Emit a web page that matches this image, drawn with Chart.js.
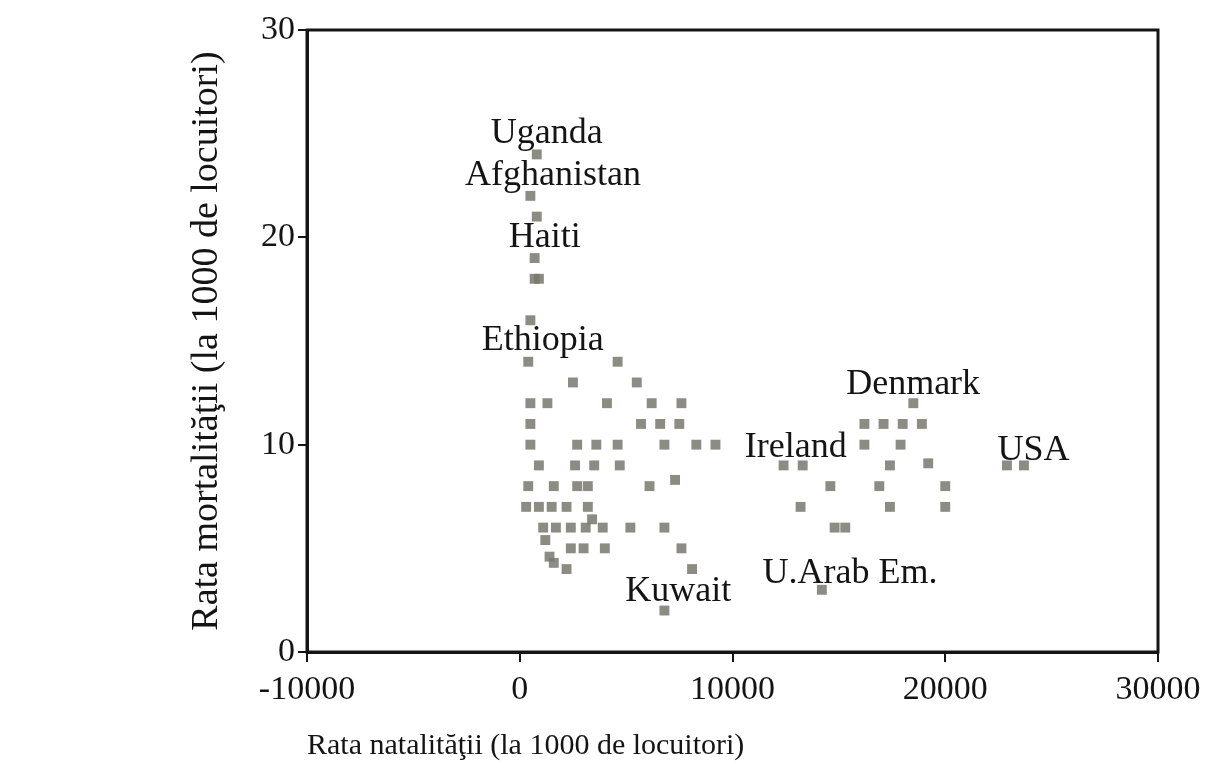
<!DOCTYPE html>
<html>
<head>
<meta charset="utf-8">
<script src="https://cdn.jsdelivr.net/npm/chart.js@4/dist/chart.umd.min.js"></script>
<style>
    html, body { margin: 0; padding: 0; background: #fff; }
    #wrap { width: 1211px; height: 772px; }
</style>
</head>
<body>
<div id="wrap"><canvas id="scatterChart" width="1211" height="772"></canvas></div>
<script>
// valori
const natalitate = [
    800, 500, 800, 700, 700, 900, 500,
    400, 4600, 2500, 5500,
    500, 1300, 4100, 6200, 7600,
    500, 5700, 6600, 7500,
    500, 2700, 3600, 4600, 6800, 8300, 9200,
    900, 2600, 3500, 4700,
    400, 1600, 2700, 3200, 6100, 7300,
    300, 900, 1500, 2200, 3200, 3400,
    1100, 1700, 2400, 3100, 3900, 5200, 6800,
    1200, 2400, 3000, 4000, 7600,
    1400, 1600, 2200, 8100, 6800,
    18500, 16200, 17100, 18000, 18900, 16200, 17900,
    12400, 13300, 17400, 19200, 22900, 23700,
    14600, 16900, 20000, 13200, 17400, 20000,
    14800, 15300, 14200
];
const mortalitate = [
    24, 22, 21, 19, 18, 18, 16,
    14, 14, 13, 13,
    12, 12, 12, 12, 12,
    11, 11, 11, 11,
    10, 10, 10, 10, 10, 10, 10,
    9, 9, 9, 9,
    8, 8, 8, 8, 8, 8.3,
    7, 7, 7, 7, 7, 6.4,
    6, 6, 6, 6, 6, 6, 6,
    5.4, 5, 5, 5, 5,
    4.6, 4.3, 4, 4, 2,
    12, 11, 11, 11, 11, 10, 10,
    9, 9, 9, 9.1, 9, 9,
    8, 8, 8, 7, 7, 7,
    6, 6, 3
];

const tari = ['Uganda', 'Afghanistan', 'Haiti', 'Ethiopia', 'Kuwait', 'U.Arab Em.', 'Ireland', 'Denmark', 'USA'];
const tariX = [1270, 1560, 1180, 1080, 7450, 15520, 12970, 18490, 24150];
const tariY = [25.0, 23.0, 20.0, 15.0, 2.9, 3.8, 9.85, 12.9, 9.7];

const xTicks = [-10000, 0, 10000, 20000, 30000];
const yTicks = [0, 10, 20, 30];

const serif = '"Liberation Serif", "DejaVu Serif", serif';

const puncte = natalitate.map((v, i) => ({ x: v, y: mortalitate[i] }));

const etichetePlugin = {
    id: 'etichete',
    afterDatasetsDraw(chart) {
        const ctx = chart.ctx;
        const sx = chart.scales.x, sy = chart.scales.y;
        ctx.save();
        ctx.fillStyle = '#141414';
        ctx.font = '36px ' + serif;
        ctx.textAlign = 'center';
        ctx.textBaseline = 'middle';
        tari.forEach((t, i) => {
            ctx.fillText(t, sx.getPixelForValue(tariX[i]), sy.getPixelForValue(tariY[i]));
        });
        const a = chart.chartArea;
        ctx.strokeStyle = '#141414';
        ctx.lineWidth = 3;
        ctx.strokeRect(a.left, a.top, a.right - a.left, a.bottom - a.top);
        ctx.restore();
    }
};

const chart = new Chart(document.getElementById('scatterChart'), {
    type: 'scatter',
    data: {
        datasets: [{
            label: 'Tari',
            data: puncte,
            pointStyle: 'rect',
            pointRadius: 7,
            pointHoverRadius: 7,
            backgroundColor: 'rgba(120, 120, 110, 0.85)',
            borderWidth: 0
        }]
    },
    options: {
        responsive: false,
        animation: false,
        devicePixelRatio: 1,
        layout: { padding: { top: 30, right: 53, bottom: 0, left: 0 } },
        plugins: {
            legend: { display: false },
            tooltip: { enabled: false }
        },
        scales: {
            x: {
                type: 'linear',
                min: -10000,
                max: 30000,
                afterFit: s => { s.height = 120; },
                afterBuildTicks: s => { s.ticks = xTicks.map(v => ({ value: v })); },
                grid: { drawOnChartArea: false, color: '#141414', lineWidth: 2, tickLength: 10 },
                border: { display: true, color: '#141414', width: 3 },
                ticks: {
                    color: '#141414',
                    font: { family: serif, size: 34 },
                    padding: 8,
                    maxRotation: 0,
                    autoSkip: false,
                    callback: v => String(v)
                },
                title: {
                    display: true,
                    text: 'Rata natalităţii (la 1000 de locuitori)',
                    align: 'start',
                    color: '#141414',
                    font: { family: serif, size: 30 },
                    padding: { top: 0, bottom: 8 }
                }
            },
            y: {
                type: 'linear',
                min: 0,
                max: 30,
                afterFit: s => { s.width = 307; },
                afterBuildTicks: s => { s.ticks = yTicks.map(v => ({ value: v })); },
                grid: { drawOnChartArea: false, color: '#141414', lineWidth: 2, tickLength: 9 },
                border: { display: true, color: '#141414', width: 3 },
                ticks: {
                    color: '#141414',
                    font: { family: serif, size: 34 },
                    padding: 3
                },
                title: {
                    display: true,
                    text: 'Rata mortalităţii (la 1000 de locuitori)',
                    color: '#141414',
                    font: { family: serif, size: 38 },
                    padding: { top: 184, bottom: 0 }
                }
            }
        }
    },
    plugins: [etichetePlugin]
});
</script>
</body>
</html>
